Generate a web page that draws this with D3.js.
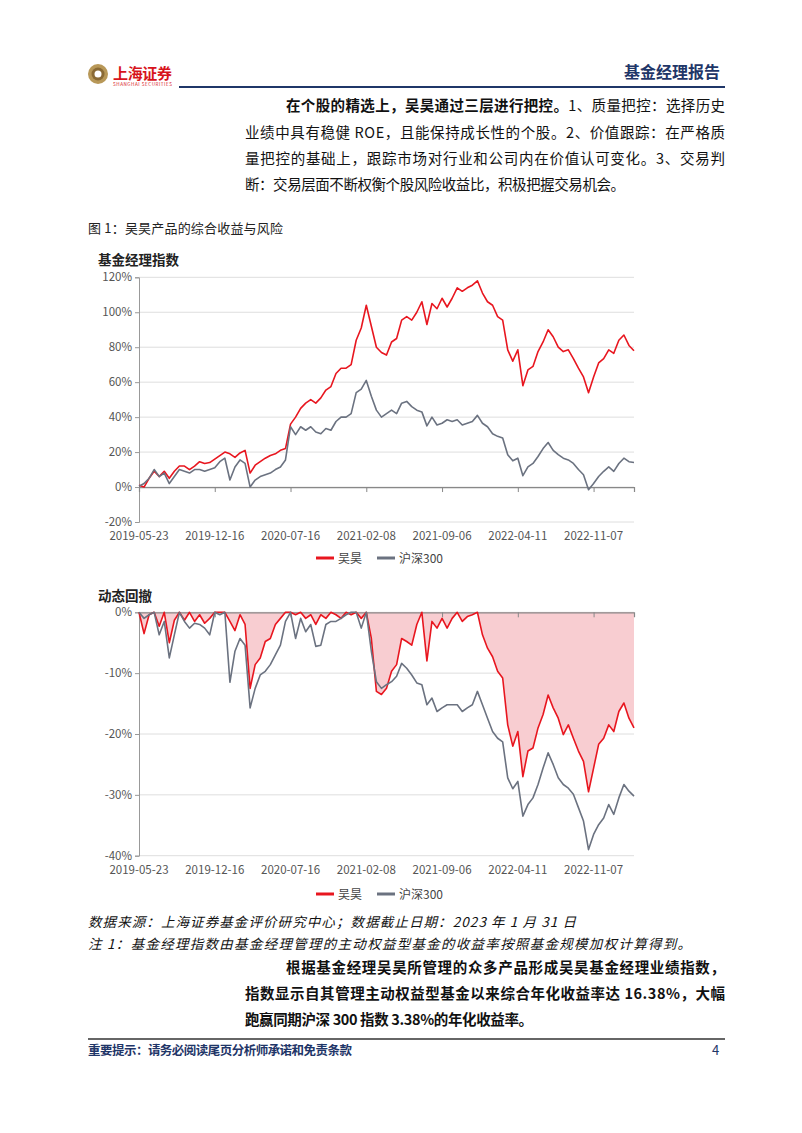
<!DOCTYPE html>
<html>
<head>
<meta charset="utf-8">
<script src="https://cdn.jsdelivr.net/npm/d3@7"></script>
<style>
  body { margin: 0; background: #fff; }
  svg text { font-family: "Noto Sans CJK SC", "Noto Sans", sans-serif; }
</style>
</head>
<body>
<div id="page"></div>
<script>
// tick labels (category axis, one label every 15 samples)
const tickLabels = ["2019-05-23", "2019-12-16", "2020-07-16", "2021-02-08", "2021-09-06", "2022-04-11", "2022-11-07"];
const tickStep = 15;
const seriesNames = ["吴昊", "沪深300"];

// 基金经理指数, cumulative return %
const wuhao = [1, 0, 5, 9, 6, 9, 5, 9, 12, 12, 10, 12, 14.5, 13.5, 14, 16, 18, 20, 19, 17,
  19.5, 21, 8, 12.5, 14.5, 16.5, 18, 19, 21, 22, 36, 40, 45, 48, 50, 48, 51, 55.5, 57.5, 65,
  68, 68, 70, 84, 91, 104, 92, 80, 77, 75.5, 83, 85, 95.5, 97.5, 95.5, 100, 106, 93, 105, 102,
  108, 103, 108, 114, 112, 114, 115.5, 118, 111, 106, 104, 97.5, 95.5, 78.5, 72, 78.5, 58, 67, 69, 77.5,
  83, 90, 86, 80, 77.5, 78.5, 73.5, 68, 63, 54, 63, 71, 73.5, 78.5, 76.5, 84, 87, 81, 78];
const hs300 = [0.5, 2, 5, 10, 6, 8, 2, 6, 10, 9, 8, 10, 10, 9, 10, 11, 14.5, 16.5, 4, 11.5,
  15.5, 13.5, 0, 4, 6, 7, 8, 10, 11.5, 15.5, 34.5, 30, 34.5, 32.5, 34.5, 31.5, 30.5, 33.5, 32.5, 37.5,
  40, 40, 42, 54, 56, 61, 52, 44, 40, 42, 44, 42, 48, 49, 46, 44, 43, 35, 40, 35.5,
  36.5, 38.5, 37.5, 38.5, 35.5, 36.5, 37.5, 41, 36.5, 34.5, 30.5, 29, 28, 18.5, 15, 16.5, 6.5, 11.5, 13.5, 17.5,
  22, 25.5, 21, 18.5, 16.5, 15.5, 13.5, 10, 7, -1.5, 2, 6, 9, 11.5, 9, 13.5, 16.5, 14.5, 14];

// 动态回撤, drawdown %
const wuhaoDD = [0, -3.5, -0.4, 0, -2.3, 0, -5, -1.3, 0, -1.3, 0, -1.5, -0.4, -1.8, -1, 0, 0, 0, -1.5, -3,
  -0.4, -2, -12.5, -8.6, -7.5, -4.8, -4.3, -2, -1, 0, 0, -0.4, 0, -1, -0.4, -2, -0.4, -1, 0, -0.4,
  -1, 0, -0.4, 0, -1, 0, -4.3, -13, -13.5, -12.5, -9.7, -8.6, -4.3, -4.8, -5.4, -2, 0, -8, -1.5, -2.6,
  -1, -2.6, -1, 0, -1.5, -0.7, -0.4, 0, -3.7, -5.9, -7.3, -9.7, -10.8, -18.5, -22, -19.6, -27, -22.8, -22.3, -19,
  -16.8, -13.6, -15.7, -17.4, -20.1, -18.5, -20.7, -22.8, -24.5, -29.5, -25.6, -21.7, -20.7, -18.5, -19.6, -16.3, -14.9, -17.4, -19];
const hs300DD = [0, -1, -0.4, 0, -3.7, -1.5, -7.5, -3.7, 0, -1.5, -2.6, -1.8, -2, -2.6, -3.7, 0, -0.4, 0, -11.5, -6.4,
  -4.3, -5.4, -15.7, -12.5, -10.3, -9.7, -8.6, -7, -5.4, -1.5, 0, -4.3, -1, -3.2, -2, -5.6, -5.4, -2, -1.5, -1.5,
  -1, -0.4, 0, 0, -2.6, 0, -6.4, -11.4, -12.5, -11.9, -11.4, -10.5, -8.4, -9.2, -10.3, -11.6, -11.9, -15.2, -14.1, -16.3,
  -15.7, -15.2, -15.2, -15.2, -16.3, -15.7, -15.2, -13, -15.2, -17.4, -19.6, -20.7, -21.3, -27.2, -29, -27.8, -33.5, -31.6, -30.5, -28.3,
  -25.6, -23.1, -25, -27.2, -28.3, -28.9, -29.9, -32.1, -34.3, -39, -36.5, -34.9, -33.8, -31.6, -33.2, -30.5, -28.3, -29.4, -30.2];

const RED = "#e8161f", GRAY = "#6b7280", FILL = "#f8cdd1", NAVY = "#1f3668";

const svg = d3.select("#page").append("svg")
  .attr("width", 802).attr("height", 1133);

// ---------- header ----------
const logo = svg.append("g");
logo.append("circle").attr("cx", 98).attr("cy", 74).attr("r", 10).attr("fill", "#b89858");
logo.append("circle").attr("cx", 98).attr("cy", 74).attr("r", 6.5).attr("fill", "#8a6a35");
logo.append("circle").attr("cx", 98).attr("cy", 74).attr("r", 3.5).attr("fill", "#fff");
svg.append("text").attr("x", 113).attr("y", 79).attr("font-size", 15).attr("font-weight", "bold")
  .attr("fill", "#d7141c").attr("textLength", 59).text("上海证券");
svg.append("text").attr("x", 113).attr("y", 86).attr("font-size", 4.6)
  .attr("fill", "#d7141c").attr("textLength", 59).text("SHANGHAI SECURITIES");
svg.append("line").attr("x1", 179).attr("x2", 725).attr("y1", 87).attr("y2", 87)
  .attr("stroke", NAVY).attr("stroke-width", 2);
svg.append("text").attr("x", 720).attr("y", 78).attr("text-anchor", "end").attr("font-size", 16)
  .attr("font-weight", "bold").attr("fill", NAVY).text("基金经理报告");

// ---------- body text ----------
function para(x, y, parts, width, opts = {}) {
  const t = svg.append("text").attr("x", x).attr("y", y).attr("font-size", opts.size || 14.5)
    .attr("fill", "#111");
  if (width) t.attr("textLength", width).attr("lengthAdjust", "spacing");
  if (opts.italic) t.attr("font-style", "italic");
  parts.forEach(p => t.append("tspan").attr("font-weight", p.b ? "bold" : "normal").text(p.t));
  return t;
}
para(286, 111, [{ t: "在个股的精选上，吴昊通过三层进行把控。", b: true }, { t: "1、质量把控：选择历史" }], 439);
para(245, 138, [{ t: "业绩中具有稳健 ROE，且能保持成长性的个股。2、价值跟踪：在严格质" }], 480);
para(245, 164, [{ t: "量把控的基础上，跟踪市场对行业和公司内在价值认可变化。3、交易判" }], 480);
para(245, 190, [{ t: "断：交易层面不断权衡个股风险收益比，积极把握交易机会。" }], 380);

svg.append("text").attr("x", 88).attr("y", 233).attr("font-size", 13).attr("fill", "#222")
  .attr("textLength", 195).text("图 1：吴昊产品的综合收益与风险");

// ---------- charts ----------
const x = d3.scaleLinear().domain([0, wuhao.length - 1]).range([139, 634]);
const tickIdx = tickLabels.map((d, i) => i * tickStep);

function drawChart(cfg) {
  const g = svg.append("g");
  const y = d3.scaleLinear().domain(cfg.domain).range(cfg.range);

  g.append("text").attr("x", 98).attr("y", cfg.titleY).attr("font-size", 13.5)
    .attr("font-weight", "bold").attr("fill", "#222").text(cfg.title);

  // grid
  g.append("g").selectAll("line").data(cfg.ticks).join("line")
    .attr("x1", x.range()[0]).attr("x2", x.range()[1])
    .attr("y1", d => y(d)).attr("y2", d => y(d))
    .attr("stroke", "#dedede").attr("stroke-width", 1);

  // y axis
  const yAxis = d3.axisLeft(y).tickValues(cfg.ticks).tickSize(4).tickFormat(d => d + "%");
  const ya = g.append("g").attr("transform", `translate(${x.range()[0]},0)`).call(yAxis);
  ya.select(".domain").attr("stroke", "#999");
  ya.selectAll(".tick line").attr("stroke", "#999");
  ya.selectAll(".tick text").attr("font-size", 11.5).attr("fill", "#555")
    .attr("font-family", "'Noto Sans', sans-serif");

  if (cfg.fill) {
    g.append("path").datum(cfg.series[0])
      .attr("fill", FILL)
      .attr("d", d3.area().x((d, i) => x(i)).y0(y(0)).y1(d => y(d)));
  }

  // x axis on zero line
  const xAxis = d3.axisBottom(x).tickValues(tickIdx).tickSize(5).tickFormat("");
  const xa = g.append("g").attr("transform", `translate(0,${y(0)})`).call(xAxis);
  xa.select(".domain").attr("stroke", "#888").attr("stroke-width", 1.2);
  xa.selectAll(".tick line").attr("stroke", "#888");

  g.append("g").selectAll("text").data(tickIdx).join("text")
    .attr("x", d => x(d)).attr("y", cfg.labelY).attr("text-anchor", "middle")
    .attr("font-size", 11.5).attr("fill", "#555").attr("font-family", "'Noto Sans', sans-serif")
    .text((d, i) => tickLabels[i]);

  const line = d3.line().x((d, i) => x(i)).y(d => y(d));
  [RED, GRAY].forEach((c, s) => {
    g.append("path").datum(cfg.series[s]).attr("fill", "none")
      .attr("stroke", c).attr("stroke-width", 1.6).attr("stroke-linejoin", "round")
      .attr("d", line);
  });

  // legend
  const lg = g.append("g").attr("transform", `translate(0,${cfg.legendY})`);
  const items = [{ x: 316, c: RED }, { x: 377, c: GRAY }];
  items.forEach((it, i) => {
    lg.append("line").attr("x1", it.x).attr("x2", it.x + 18).attr("y1", 0).attr("y2", 0)
      .attr("stroke", it.c).attr("stroke-width", 3);
    lg.append("text").attr("x", it.x + 22).attr("y", 4.5).attr("font-size", 12)
      .attr("fill", "#444").text(seriesNames[i]);
  });
}

drawChart({
  title: "基金经理指数", titleY: 265,
  domain: [-20, 120], range: [522, 277.3],
  ticks: [-20, 0, 20, 40, 60, 80, 100, 120],
  series: [wuhao, hs300], labelY: 540, legendY: 558
});

drawChart({
  title: "动态回撤", titleY: 601,
  domain: [-40, 0], range: [855.7, 612.3],
  ticks: [-40, -30, -20, -10, 0],
  series: [wuhaoDD, hs300DD], fill: true, labelY: 874, legendY: 894
});

// ---------- notes ----------
para(88, 927, [{ t: "数据来源：上海证券基金评价研究中心；数据截止日期：2023 年 1 月 31 日" }], 488, { size: 13.5, italic: true });
para(88, 949, [{ t: "注 1：基金经理指数由基金经理管理的主动权益型基金的收益率按照基金规模加权计算得到。" }], 603, { size: 13.5, italic: true });
para(286, 973, [{ t: "根据基金经理吴昊所管理的众多产品形成吴昊基金经理业绩指数，", b: true }], 439);
para(245, 999, [{ t: "指数显示自其管理主动权益型基金以来综合年化收益率达 16.38%，大幅", b: true }], 480);
para(245, 1025, [{ t: "跑赢同期沪深 300 指数 3.38%的年化收益率。", b: true }], 288);

// ---------- footer ----------
svg.append("line").attr("x1", 88).attr("x2", 725).attr("y1", 1039).attr("y2", 1039)
  .attr("stroke", "#333").attr("stroke-width", 1.5);
svg.append("text").attr("x", 88).attr("y", 1055).attr("font-size", 12.5).attr("font-weight", "bold")
  .attr("fill", NAVY).attr("textLength", 264).text("重要提示：请务必阅读尾页分析师承诺和免责条款");
svg.append("text").attr("x", 712).attr("y", 1055).attr("font-size", 13).attr("fill", NAVY).text("4");
</script>
</body>
</html>
